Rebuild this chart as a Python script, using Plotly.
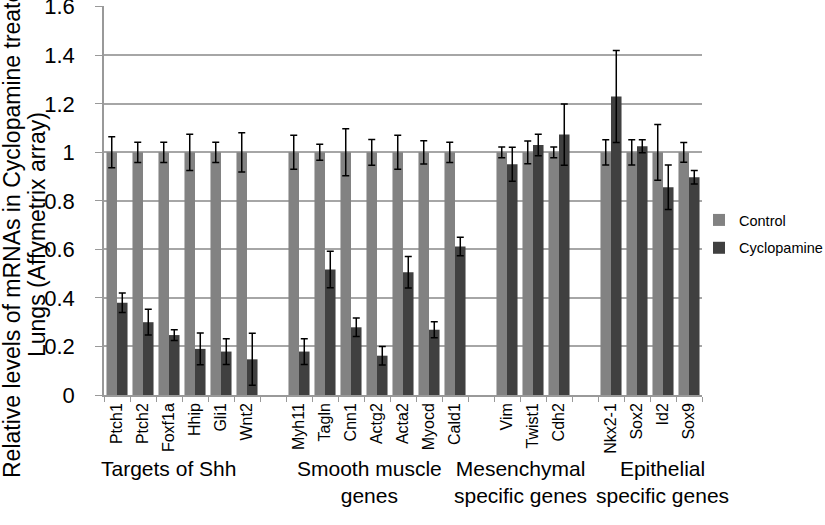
import plotly.graph_objects as go

categories = ["Ptch1", "Ptch2", "Foxf1a", "Hhip", "Gli1", "Wnt2", "",
              "Myh11", "Tagln", "Cnn1", "Actg2", "Acta2", "Myocd", "Cald1", "",
              "Vim", "Twist1", "Cdh2", "",
              "Nkx2-1", "Sox2", "Id2", "Sox9"]
control = [1, 1, 1, 1, 1, 1, None,
           1, 1, 1, 1, 1, 1, 1, None,
           1, 1, 1, None,
           1, 1, 1, 1]
control_err = [0.064, 0.042, 0.042, 0.075, 0.042, 0.081, None,
               0.07, 0.033, 0.097, 0.053, 0.07, 0.048, 0.042, None,
               0.022, 0.047, 0.022, None,
               0.052, 0.052, 0.115, 0.041]
cyclopamine = [0.38, 0.30, 0.247, 0.19, 0.179, 0.147, None,
               0.179, 0.517, 0.279, 0.162, 0.506, 0.269, 0.612, None,
               0.951, 1.03, 1.073, None,
               1.23, 1.025, 0.856, 0.897]
cyclopamine_err = [0.04, 0.053, 0.022, 0.065, 0.053, 0.107, None,
                   0.053, 0.075, 0.038, 0.038, 0.065, 0.033, 0.038, None,
                   0.07, 0.044, 0.126, None,
                   0.19, 0.027, 0.092, 0.028]
group_labels = ["Targets of Shh", "Smooth muscle<br>genes",
                "Mesenchymal<br>specific genes", "Epithelial<br>specific genes"]
y_title_lines = ["Relative levels of mRNAs in Cyclopamine treated",
                 "Lungs (Affymetrix array)"]
y_ticks = [0, 0.2, 0.4, 0.6, 0.8, 1, 1.2, 1.4, 1.6]
y_ticktext = ["0", "0.2", "0.4", "0.6", "0.8", "1", "1.2", "1.4", "1.6"]

keys = [c if c else f"gap{i}" for i, c in enumerate(categories)]

FONT = "Liberation Sans, Arial, sans-serif"
PL, PR, PT, PB = 104, 702, 6, 395   # plot area in pixels


def px_x(p):
    return (p - PL) / (PR - PL)


def px_y(p):
    return (PB - p) / (PB - PT)


fig = go.Figure()
fig.add_trace(go.Bar(
    x=keys, y=control, name="Control", marker_color="#828282",
    marker_line_width=0, legendgroup="a",
    error_y=dict(type="data", array=control_err, color="black", thickness=1.5, width=3.5),
))
fig.add_trace(go.Bar(
    x=keys, y=cyclopamine, name="Cyclopamine", marker_color="#404040",
    marker_line_width=0, legendgroup="b",
    error_y=dict(type="data", array=cyclopamine_err, color="black", thickness=1.5, width=3.5),
))

annotations = []
group_px = [168, 369, 520, 662]
for lab, cx in zip(group_labels, group_px):
    annotations.append(dict(
        text=lab, x=px_x(cx), xref="paper", xanchor="center",
        y=px_y(455), yref="paper", yanchor="top", showarrow=False, align="center",
        font=dict(family=FONT, size=21, color="black"),
    ))
for line, cx, cy in zip(y_title_lines, [12, 37], [228, 235]):
    annotations.append(dict(
        text=line, textangle=-90, x=px_x(cx), xref="paper", xanchor="center",
        y=px_y(cy), yref="paper", yanchor="middle", showarrow=False,
        font=dict(family=FONT, size=23, color="black"),
    ))

fig.update_layout(
    width=825, height=525,
    margin=dict(l=PL, r=825 - PR, t=PT, b=525 - PB, autoexpand=False),
    paper_bgcolor="white", plot_bgcolor="white",
    barmode="group", bargap=0.19, bargroupgap=0,
    font=dict(family=FONT, color="black"),
    showlegend=True,
    legend=dict(x=px_x(699), y=px_y(204), xanchor="left", yanchor="top",
                font=dict(family=FONT, size=14.5, color="black"),
                bgcolor="rgba(0,0,0,0)", tracegroupgap=6),
    annotations=annotations,
    xaxis=dict(
        type="category", categoryorder="array", categoryarray=keys,
        tickvals=keys, ticktext=categories, tickangle=-90,
        tickson="boundaries", ticks="outside", ticklen=5, tickcolor="#999999",
        showline=True, linecolor="#999999", linewidth=1.5,
        tickfont=dict(family=FONT, size=16, color="black"),
        range=[-0.5, len(keys) - 0.5], showgrid=False, automargin=False,
    ),
    yaxis=dict(
        range=[0, 1.603], tickvals=y_ticks, ticktext=y_ticktext,
        ticks="outside", ticklen=7, tickcolor="#999999",
        showline=True, linecolor="#999999", linewidth=1.5,
        showgrid=True, gridcolor="#a6a6a6", gridwidth=1.5,
        tickfont=dict(family=FONT, size=22, color="black"),
        ticklabelstandoff=16, zeroline=False, automargin=False,
        ticklabeloverflow="allow",
    ),
)

fig.write_html(
    "out.html",
    config={"displayModeBar": False},
    post_script="document.body.style.margin='0';document.body.style.overflow='hidden';",
)
